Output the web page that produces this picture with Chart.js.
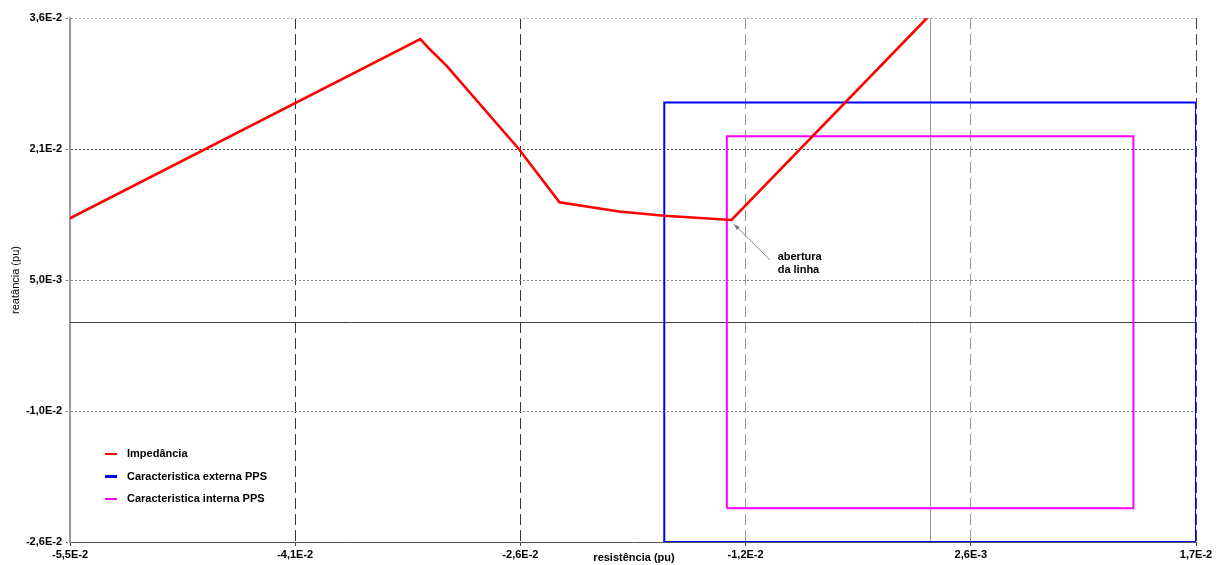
<!DOCTYPE html>
<html><head><meta charset="utf-8">
<script src="https://cdn.jsdelivr.net/npm/chart.js@4.4.1/dist/chart.umd.min.js"></script>
<style>html,body{margin:0;padding:0;background:#fff;overflow:hidden;} #wrap{width:1224px;height:565px;position:relative;}</style>
</head><body><div id="wrap"><canvas id="c" width="1224" height="565"></canvas></div>
<script>
// ---- data ----
const impedanceR = [-0.055, -0.0326, -0.0321, -0.0309, -0.0263, -0.0237, -0.0199, -0.0170, -0.0127, -0.0002];
const impedanceX = [0.0123, 0.0335, 0.0325, 0.0303, 0.0205, 0.0142, 0.0131, 0.0126, 0.0121, 0.0360];
const externalR = [-0.017, 0.017, 0.017, -0.017, -0.017];
const externalX = [-0.026, -0.026, 0.026, 0.026, -0.026];
const internalR = [-0.013, 0.013, 0.013, -0.013, -0.013];
const internalX = [-0.022, -0.022, 0.022, 0.022, -0.022];
const xTicks = [-0.055, -0.0406, -0.0262, -0.0118, 0.0026, 0.017];
const xTickLabels = ['-5,5E-2', '-4,1E-2', '-2,6E-2', '-1,2E-2', '2,6E-3', '1,7E-2'];
const yTicks = [-0.026, -0.0105, 0.005, 0.0205, 0.036];
const yTickLabels = ['-2,6E-2', '-1,0E-2', '5,0E-3', '2,1E-2', '3,6E-2'];
const seriesLabels = ['Impedância', 'Caracteristica externa PPS', 'Caracteristica interna PPS'];
const xTitle = 'resistência (pu)';
const yTitle = 'reatância (pu)';
const annotationText = ['abertura', 'da linha'];
const annotationTip = [-0.01254, 0.01159];
const annotationTail = [-0.01024, 0.00737];
const annotationLabelAt = [-0.00975, 0.00772];

// ---- styles ----
const FONT = "'Liberation Sans', Arial, sans-serif";
const xGridColors = ['rgba(0,0,0,0)', '#333', '#333', '#999', '#999', '#444'];
const yGridColors = ['rgba(0,0,0,0)', '#888', '#888', '#444', '#aaa'];
const legendWidths = [2, 3, 2];

const toPts = (xs, ys) => xs.map((v, i) => ({x: v, y: ys[i]}));

const decor = {
  id: 'decor',
  beforeDatasetsDraw(chart) {
    const {ctx, chartArea: a, scales: {x, y}} = chart;
    ctx.save();
    ctx.lineWidth = 1;
    const zx = Math.round(x.getPixelForValue(0)) + 0.5;
    const zy = Math.round(y.getPixelForValue(0)) + 0.5;
    ctx.strokeStyle = '#999';
    ctx.beginPath(); ctx.moveTo(zx, a.top); ctx.lineTo(zx, a.bottom); ctx.stroke();
    ctx.strokeStyle = '#444';
    ctx.beginPath(); ctx.moveTo(a.left, zy); ctx.lineTo(a.right, zy); ctx.stroke();
    ctx.restore();
  },
  afterDraw(chart) {
    const {ctx, chartArea: a, scales: {x, y}} = chart;
    ctx.save();
    // legend
    ctx.font = 'bold 11px ' + FONT;
    ctx.textBaseline = 'middle';
    ctx.textAlign = 'left';
    chart.data.datasets.forEach((ds, i) => {
      const yy = a.bottom - 88 + i * 22.5;
      ctx.strokeStyle = ds.borderColor;
      ctx.lineWidth = legendWidths[i];
      ctx.beginPath(); ctx.moveTo(a.left + 35, yy); ctx.lineTo(a.left + 47, yy); ctx.stroke();
      ctx.fillStyle = '#000';
      ctx.fillText(ds.label, a.left + 57, yy);
    });
    // axis titles
    ctx.fillStyle = '#000';
    ctx.font = 'bold 11px ' + FONT;
    ctx.textAlign = 'center';
    ctx.fillText(xTitle, (a.left + a.right) / 2 + 1, a.bottom + 16);
    ctx.save();
    ctx.translate(16, (a.top + a.bottom) / 2);
    ctx.rotate(-Math.PI / 2);
    ctx.font = '11px ' + FONT;
    ctx.fillText(yTitle, 0, 0);
    ctx.restore();
    // annotation arrow
    const tx = x.getPixelForValue(annotationTip[0]), ty = y.getPixelForValue(annotationTip[1]);
    const sx = x.getPixelForValue(annotationTail[0]), sy = y.getPixelForValue(annotationTail[1]);
    ctx.strokeStyle = '#888'; ctx.fillStyle = '#777'; ctx.lineWidth = 1;
    ctx.beginPath(); ctx.moveTo(sx, sy); ctx.lineTo(tx, ty); ctx.stroke();
    const ang = Math.atan2(ty - sy, tx - sx), L = 6, W = 2.2;
    ctx.beginPath();
    ctx.moveTo(tx, ty);
    ctx.lineTo(tx - L * Math.cos(ang) + W * Math.sin(ang), ty - L * Math.sin(ang) - W * Math.cos(ang));
    ctx.lineTo(tx - L * Math.cos(ang) - W * Math.sin(ang), ty - L * Math.sin(ang) + W * Math.cos(ang));
    ctx.closePath(); ctx.fill();
    ctx.fillStyle = '#000';
    ctx.font = 'bold 11px ' + FONT;
    ctx.textAlign = 'left';
    ctx.textBaseline = 'middle';
    const lx = x.getPixelForValue(annotationLabelAt[0]), ly = y.getPixelForValue(annotationLabelAt[1]);
    annotationText.forEach((t, i) => ctx.fillText(t, lx, ly + i * 13));
    ctx.restore();
  }
};

new Chart(document.getElementById('c'), {
  type: 'scatter',
  data: {
    datasets: [
      {label: seriesLabels[0], data: toPts(impedanceR, impedanceX), borderColor: '#ff0000', backgroundColor: '#ff0000', borderWidth: 2.6, showLine: true, pointRadius: 0, tension: 0, fill: false},
      {label: seriesLabels[1], data: toPts(externalR, externalX), borderColor: '#0000ff', backgroundColor: '#0000ff', borderWidth: 2, showLine: true, pointRadius: 0, tension: 0, fill: false, borderJoinStyle: 'miter'},
      {label: seriesLabels[2], data: toPts(internalR, internalX), borderColor: '#ff00ff', backgroundColor: '#ff00ff', borderWidth: 2, showLine: true, pointRadius: 0, tension: 0, fill: false, borderJoinStyle: 'miter'}
    ]
  },
  options: {
    responsive: false,
    animation: false,
    events: [],
    layout: {padding: {left: 0, right: 28, top: 18, bottom: 0}},
    plugins: {legend: {display: false}, tooltip: {enabled: false}},
    scales: {
      x: {
        type: 'linear', min: -0.055, max: 0.017,
        afterBuildTicks: s => { s.ticks = xTicks.map(v => ({value: v})); },
        afterFit: s => { s.height = 23; },
        ticks: {callback: (v, i) => xTickLabels[i], font: {family: FONT, size: 11, weight: 'bold'}, color: '#000', padding: 2, maxRotation: 0, autoSkip: false},
        grid: {color: c => xGridColors[c.index], lineWidth: 1, tickLength: 4, tickColor: '#444', drawTicks: true},
        border: {display: true, color: '#555', width: 1, dash: [11, 5]}
      },
      y: {
        type: 'linear', min: -0.026, max: 0.036,
        afterBuildTicks: s => { s.ticks = yTicks.map(v => ({value: v})); },
        afterFit: s => { s.width = 70; },
        ticks: {callback: (v, i) => yTickLabels[i], font: {family: FONT, size: 11, weight: 'bold'}, color: '#000', padding: 4, autoSkip: false},
        grid: {color: c => yGridColors[c.index], lineWidth: 1, tickLength: 4, tickColor: '#777', tickBorderDash: [2, 2]},
        border: {display: true, color: '#999', width: 2, dash: [2, 2]}
      }
    }
  },
  plugins: [decor]
});
</script>
</body></html>
